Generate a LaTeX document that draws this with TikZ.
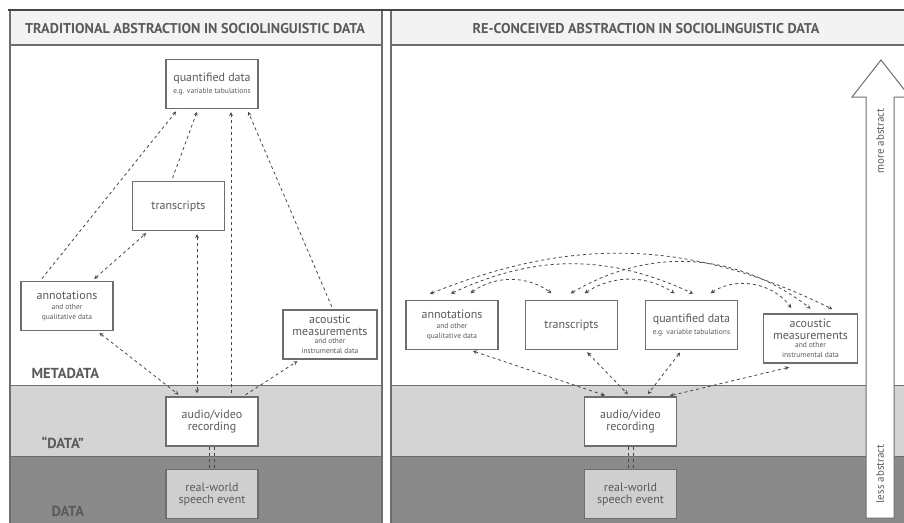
\documentclass[tikz,border=0pt]{standalone}
\usepackage{fontspec}
\setmainfont{PT Sans}
\usetikzlibrary{arrows, positioning, calc}
\definecolor{grisborde}{RGB}{110,110,110}
\definecolor{gristexto}{RGB}{90,90,90}
\definecolor{grislinea}{RGB}{70,70,70}
\definecolor{grisclaro}{RGB}{212,212,212}
\definecolor{grisoscuro}{RGB}{138,138,138}
\definecolor{grisevento}{RGB}{207,207,207}
\definecolor{griscabecera}{RGB}{243,243,243}
\newcommand{\chica}{\fontsize{7.5}{8.5}\selectfont}
\tikzset{>=stealth,
  caja/.style={draw=grisborde, line width=1.1pt, fill=white, text=gristexto, minimum width=92pt, minimum height=49pt, align=center, inner sep=1pt, font=\fontsize{12}{13}\selectfont},
  flecha/.style={dashed, draw=grislinea, line width=0.8pt, shorten >=3pt, shorten <=3pt},
  nivel/.style={text=gristexto, font=\bfseries\fontsize{14.5}{16}\selectfont, anchor=west},
  titulo/.style={text=gristexto, font=\bfseries\fontsize{14.2}{16}\selectfont},
  lado/.style={text=gristexto, rotate=90, font=\fontsize{11}{12}\selectfont}}

\begin{document}
\begin{tikzpicture}[x=1pt, y=-1pt]
\useasboundingbox (0,0) rectangle (904,522);
\clip (0,0) rectangle (904,522);

% bandas
\fill[grisclaro] (10,385) rectangle (382,456);
\fill[grisoscuro] (10,456) rectangle (382,530);
\fill[grisclaro] (391,385) rectangle (910,456);
\fill[grisoscuro] (391,456) rectangle (910,530);
\draw[grisborde] (10,385) -- (382,385) (10,456) -- (382,456);
\draw[grisborde] (391,385) -- (910,385) (391,456) -- (910,456);

% paneles
\draw[grisborde, line width=1.1pt, fill=griscabecera] (10,10) rectangle (382,45);
\draw[grisborde, line width=1.1pt] (10,10) rectangle (382,530);
\draw[grisborde, line width=1.1pt, fill=griscabecera] (391,10) rectangle (910,45);
\draw[grisborde, line width=1.1pt] (391,10) rectangle (910,530);
\draw[grislinea, line width=2pt] (8,10) -- (904,10);

\node[titulo] (tituloizq) at (195,29) {TRADITIONAL ABSTRACTION IN SOCIOLINGUISTIC DATA};
\node[titulo] (tituloder) at (646,29) {RE-CONCEIVED ABSTRACTION IN SOCIOLINGUISTIC DATA};

\node[nivel] (metadata) at (28,373) {METADATA};
\node[nivel] (comillas) at (38,443) {“DATA”};
\node[nivel] (datos) at (48,511) {DATA};

% panel izquierdo
\node[caja] (lq) at (212,84) {quantified data\\[-1pt]{\chica e.g. variable tabulations}};
\node[caja] (lt) at (178.5,206) {transcripts};
\node[caja] (la) at (67,306) {annotations\\[-3pt]{\chica and other}\\[-3pt]{\chica qualitative data}};
\node[caja, minimum width=94pt] (lac) at (330,334.5) {acoustic\\[-1pt]measurements\\[-5pt]{\chica and other}\\[-3pt]{\chica instrumental data}};
\node[caja] (lav) at (212,421.5) {audio/video\\[-1pt]recording};
\node[caja, fill=grisevento] (lrw) at (212,494) {real-world\\[-1pt]speech event};

\draw[flecha, ->] ([xshift=-27pt]la.north) -- ([xshift=-34pt]lq.south);
\draw[flecha, ->] ([xshift=-7pt]lt.north) -- ([xshift=-14pt]lq.south);
\draw[flecha, ->] ([xshift=19pt]lav.north) -- ([xshift=19pt]lq.south);
\draw[flecha, ->] ([xshift=3pt]lac.north) -- ([xshift=35pt]lq.south);
\draw[flecha, <->] ([xshift=25pt]la.north) -- ([xshift=-30pt]lt.south);
\draw[flecha, <->] ([xshift=18.5pt]lt.south) -- ([xshift=-15pt]lav.north);
\draw[flecha, <->] ([xshift=30pt]la.south) -- ([xshift=-31pt]lav.north);
\draw[flecha, ->] ([xshift=31pt]lav.north) -- ([xshift=-30pt]lac.south);
\draw[dashed, grislinea, line width=0.8pt] ([xshift=-3pt]lav.south) -- ([xshift=-3pt]lrw.north);
\draw[dashed, grislinea, line width=0.8pt] ([xshift=2pt]lav.south) -- ([xshift=2pt]lrw.north);

% panel derecho
\node[caja] (ra) at (452,325) {annotations\\[-3pt]{\chica and other}\\[-3pt]{\chica qualitative data}};
\node[caja] (rt) at (571.5,325) {transcripts};
\node[caja] (rq) at (691.5,325) {quantified data\\[-1pt]{\chica e.g. variable tabulations}};
\node[caja, minimum width=94pt] (rac) at (810.5,338.5) {acoustic\\[-1pt]measurements\\[-5pt]{\chica and other}\\[-3pt]{\chica instrumental data}};
\node[caja] (rav) at (630.5,421.5) {audio/video\\[-1pt]recording};
\node[caja, fill=grisevento] (rrw) at (630.5,494) {real-world\\[-1pt]speech event};

\draw[flecha, <->] ([xshift=16pt, yshift=5pt]ra.north) to[bend left=36] ([xshift=-17.5pt, yshift=5pt]rt.north);
\draw[flecha, <->] ([xshift=-4pt, yshift=5pt]ra.north) to[bend left=25] ([xshift=4.5pt, yshift=5pt]rq.north);
\draw[flecha, <->] ([xshift=-25pt, yshift=5pt]ra.north) to[bend left=24] ([xshift=24.5pt, yshift=3pt]rac.north);
\draw[flecha, <->] ([xshift=10.5pt, yshift=5pt]rt.north) to[bend left=33] ([xshift=-14.5pt, yshift=5pt]rq.north);
\draw[flecha, <->] ([xshift=-3.5pt, yshift=5pt]rt.north) to[bend left=34] ([xshift=2.5pt, yshift=3pt]rac.north);
\draw[flecha, <->] ([xshift=16.5pt, yshift=5pt]rq.north) to[bend left=44] ([xshift=-17.5pt, yshift=3pt]rac.north);

\draw[flecha, <->] ([xshift=18pt]ra.south) -- ([xshift=-22.5pt]rav.north);
\draw[flecha, <->] ([xshift=13.5pt]rt.south) -- ([xshift=-0.5pt]rav.north);
\draw[flecha, <->] ([xshift=-9.5pt]rq.south) -- ([xshift=15.5pt]rav.north);
\draw[flecha, <->] ([xshift=-18.5pt, yshift=-3pt]rac.south) -- ([xshift=36.5pt]rav.north);
\draw[dashed, grislinea, line width=0.8pt] ([xshift=-2.5pt]rav.south) -- ([xshift=-2.5pt]rrw.north);
\draw[dashed, grislinea, line width=0.8pt] ([xshift=2.5pt]rav.south) -- ([xshift=2.5pt]rrw.north);

% flecha grande
\draw[grisborde, line width=1pt, fill=white] (866,518) -- (866,97) -- (852,97) -- (881,60) -- (910,97) -- (894,97) -- (894,518) -- cycle;
\node[lado] (masabs) at (880,141) {more abstract};
\node[lado] (menosabs) at (880,474) {less abstract};
\end{tikzpicture}
\end{document}
